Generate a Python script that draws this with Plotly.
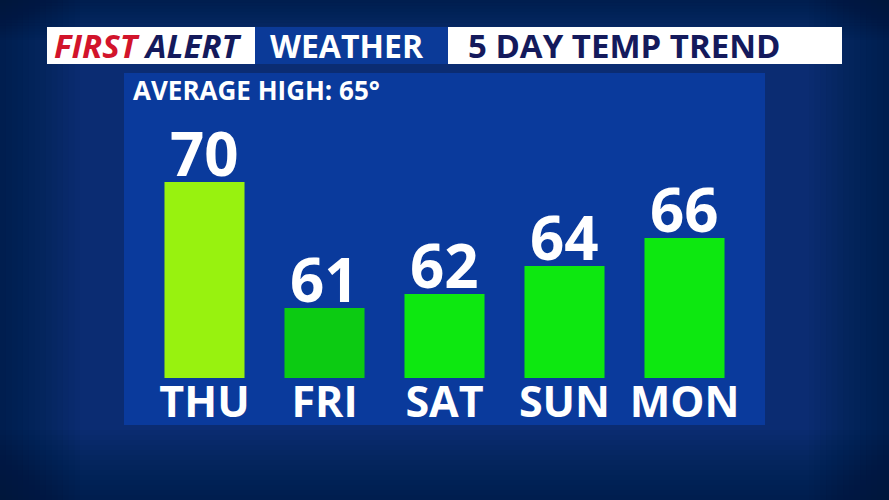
import plotly.graph_objects as go

days = ["THU", "FRI", "SAT", "SUN", "MON"]
temps = [70, 61, 62, 64, 66]
bar_colors = ["#98f20f", "#0ccb12", "#0de810", "#0de810", "#0de810"]
title_left_red = "FIRST"
title_left_navy = "ALERT"
title_mid = "WEATHER"
title_right = "5 DAY TEMP TREND"
avg_label = "AVERAGE HIGH: 65°"

W, H = 889, 500
def px(x): return x / W
def py(y): return 1 - y / H

FONT = "Open Sans"

fig = go.Figure(go.Bar(
    x=days, y=temps,
    marker=dict(color=bar_colors, line=dict(width=0)),
    width=0.667,
    cliponaxis=False,
    hoverinfo="skip",
))

shapes = [
    dict(type="rect", xref="paper", yref="paper", x0=0, x1=1, y0=0, y1=1,
         fillcolor="#0b2c72", line_width=0, layer="below"),
]
# soft vignette toward edges (stacked translucent bands)
N = 14
for i in range(N):
    f = (i + 1) / N
    a = 0.045
    shapes.append(dict(type="rect", xref="paper", yref="paper", x0=0, x1=0.09 * f, y0=0, y1=1,
                       fillcolor=f"rgba(3,14,48,{a})", line_width=0, layer="below"))
    shapes.append(dict(type="rect", xref="paper", yref="paper", x0=1 - 0.09 * f, x1=1, y0=0, y1=1,
                       fillcolor=f"rgba(3,14,48,{a})", line_width=0, layer="below"))
    shapes.append(dict(type="rect", xref="paper", yref="paper", x0=0, x1=1, y0=0, y1=0.14 * f,
                       fillcolor=f"rgba(3,14,48,{a})", line_width=0, layer="below"))
    shapes.append(dict(type="rect", xref="paper", yref="paper", x0=0, x1=1, y0=1 - 0.08 * f, y1=1,
                       fillcolor=f"rgba(3,14,48,{a})", line_width=0, layer="below"))

shapes += [
    # main panel
    dict(type="rect", xref="paper", yref="paper", x0=px(124), x1=px(765), y0=py(425), y1=py(73),
         fillcolor="#0a3a9c", line_width=0, layer="below"),
    # header boxes
    dict(type="rect", xref="paper", yref="paper", x0=px(47), x1=px(255), y0=py(64), y1=py(27),
         fillcolor="white", line_width=0, layer="below"),
    dict(type="rect", xref="paper", yref="paper", x0=px(255), x1=px(448), y0=py(64), y1=py(27),
         fillcolor="#0b3a98", line_width=0, layer="below"),
    dict(type="rect", xref="paper", yref="paper", x0=px(448), x1=px(842), y0=py(64), y1=py(27),
         fillcolor="white", line_width=0, layer="below"),
]

annotations = [
    dict(xref="paper", yref="paper", x=px(52), y=py(46), xanchor="left", yanchor="middle",
         text=f"<span style='color:#d2142b'>{title_left_red}</span> <span style='color:#141a5c'>{title_left_navy}</span>",
         showarrow=False, font=dict(family=FONT, size=33, weight="bold", style="italic")),
    dict(xref="paper", yref="paper", x=px(347), y=py(46), xanchor="center", yanchor="middle",
         text=title_mid, showarrow=False,
         font=dict(family=FONT, size=32, color="white", weight="bold")),
    dict(xref="paper", yref="paper", x=px(466), y=py(46), xanchor="left", yanchor="middle",
         text=title_right, showarrow=False,
         font=dict(family=FONT, size=33, color="#141a5c", weight="bold")),
    dict(xref="paper", yref="paper", x=px(131), y=py(90), xanchor="left", yanchor="middle",
         text=avg_label, showarrow=False,
         font=dict(family=FONT, size=26, color="white", weight="bold")),
]
# value labels above bars (anchored to data coordinates)
for d, t in zip(days, temps):
    annotations.append(dict(xref="x", yref="y", x=d, y=t, xanchor="center", yanchor="bottom",
                            text=str(t), showarrow=False, yshift=-14,
                            font=dict(family=FONT, size=60, color="white", weight="bold")))

fig.update_layout(
    width=W, height=H,
    margin=dict(l=0, r=0, t=0, b=0),
    paper_bgcolor="#0b2c72",
    plot_bgcolor="rgba(0,0,0,0)",
    shapes=shapes,
    annotations=annotations,
    showlegend=False,
    xaxis=dict(domain=[px(144.5), px(744.5)], range=[-0.5, 4.5],
               showgrid=False, zeroline=False, showline=False, ticks="",
               tickfont=dict(family=FONT, size=43, color="white", weight="bold"),
               ticklabelstandoff=-5),
    yaxis=dict(domain=[py(378), py(154)], range=[56, 72], visible=False,
               showgrid=False, zeroline=False),
    bargap=0.333,
)

fig.write_html("out.html", config={"displayModeBar": False},
               post_script="document.body.style.margin='0';document.body.style.overflow='hidden';")
